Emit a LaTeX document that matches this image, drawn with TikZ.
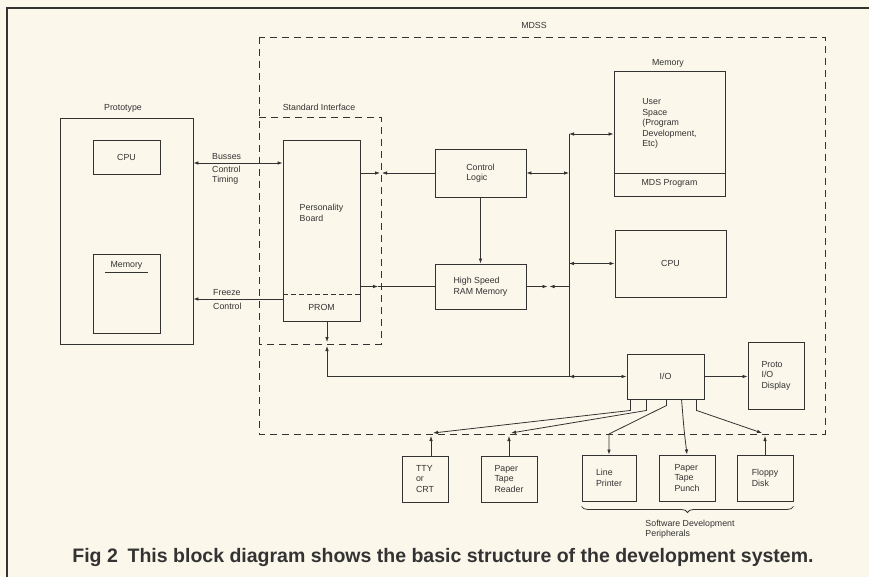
\documentclass[tikz,border=0pt]{standalone}
\usepackage{fontspec}
\setmainfont{Liberation Sans}
\usetikzlibrary{arrows.meta,positioning,decorations.pathreplacing}
\definecolor{paper}{HTML}{FBF7EA}
\definecolor{ink}{HTML}{333333}
\newcommand{\lbl}{\fontsize{8.8}{10.5}\selectfont}
\tikzset{
  blk/.style={
    rectangle,
    draw=ink,
    line width=0.9pt,
    align=left,
    inner sep=0pt,
    font=\lbl,
    text=ink
  },
  tag/.style={font=\lbl,text=ink,inner sep=0pt,align=left},
  dashbox/.style={draw=ink,line width=0.9pt,dash pattern=on 7pt off 5pt},
  link/.style={line width=0.8pt,draw=ink},
  arrow/.style={-{Latex[length=5pt,width=3.6pt]},line width=0.8pt,draw=ink},
  biarrow/.style={{Latex[length=5pt,width=3.6pt]}-{Latex[length=5pt,width=3.6pt]},line width=0.8pt,draw=ink}
}

\begin{document}
\begin{tikzpicture}[x=1pt,y=-1pt]
  \path[fill=paper,use as bounding box] (0,0) rectangle (869,577);
  \draw[ink,line width=2.4pt] (7,577) -- (7,8) -- (869,8);

  % dashed groups
  \draw[dashbox] (259,37) rectangle (825,434);
  \draw[dashbox] (259,117) -- (381,117) -- (381,344) -- (259,344);
  \node[tag] (mdss) at (534,25) {MDSS};
  \node[tag] (stdif) at (319,107) {Standard Interface};

  % prototype
  \node[tag] (protot) at (123,108) {Prototype};
  \node[blk,minimum width=133pt,minimum height=226pt] (proto) at (126.5,231) {};
  \node[blk,minimum width=67pt,minimum height=34pt] (pcpu) at (126.5,157) {CPU};
  \node[blk,minimum width=67pt,minimum height=79pt] (pmem) at (126.5,293.5) {};
  \node[tag] (pmemt) at (126.5,265) {Memory};
  \draw[link] ([xshift=-5pt,yshift=-3pt]pmemt.south west) -- ([xshift=5pt,yshift=-3pt]pmemt.south east);

  % standard interface
  \node[blk,minimum width=77pt,minimum height=181pt] (pers) at (321.5,230.5) {};
  \node[tag] (perst) at (321.5,213) {Personality\\Board};
  \draw[ink,line width=0.9pt,dash pattern=on 5pt off 3pt] (pers.west |- 0,294) -- (pers.east |- 0,294);
  \node[tag] (prom) at (321.5,307) {PROM};

  % mdss blocks
  \node[blk,minimum width=91pt,minimum height=48pt] (ctrl) at (480.5,173) {Control\\Logic};
  \node[blk,minimum width=91pt,minimum height=45pt] (ram) at (480.5,286.5) {High Speed\\RAM Memory};
  \node[tag] (memt) at (668,63) {Memory};
  \node[blk,minimum width=111pt,minimum height=125pt] (mem) at (669.5,133.5) {};
  \node[tag] (user) at (669.5,123.5) {User\\Space\\(Program\\Development,\\Etc)};
  \draw[link,line width=0.9pt] (mem.west |- 0,173) -- (mem.east |- 0,173);
  \node[tag] (mdsp) at (669.5,183) {MDS Program};
  \node[blk,minimum width=111pt,minimum height=67pt] (cpu) at (670.5,263.5) {CPU};
  \node[blk,minimum width=77pt,minimum height=45pt] (io) at (665.5,376.5) {I/O};
  \node[blk,minimum width=56pt,minimum height=67pt] (disp) at (776,375.5) {Proto\\I/O\\Display};

  % peripherals
  \node[blk,minimum width=46pt,minimum height=46pt] (tty) at (425,479) {TTY\\or\\CRT};
  \node[blk,minimum width=56pt,minimum height=46pt] (ptr) at (509,479) {Paper\\Tape\\Reader};
  \node[blk,minimum width=54pt,minimum height=46pt] (lp) at (609,478) {Line\\Printer};
  \node[blk,minimum width=56pt,minimum height=46pt] (ptp) at (687,478) {Paper\\Tape\\Punch};
  \node[blk,minimum width=56pt,minimum height=46pt] (fd) at (765,478) {Floppy\\Disk};
  \draw[link,decorate,decoration={brace,mirror,amplitude=6pt}] ([yshift=-5pt]lp.south west) -- ([yshift=-5pt]fd.south east);
  \node[tag] (swdev) at (690,529) {Software Development\\Peripherals};

  % prototype links
  \draw[biarrow] (proto.east |- 0,163) -- (pers.west |- 0,163);
  \node[tag,anchor=west] (busst) at (212,157) {Busses};
  \node[tag,anchor=west] (ctlt) at (212,169) {Control};
  \node[tag,anchor=west] (timt) at (212,180) {Timing};
  \draw[arrow] (pers.west |- 0,299) -- (proto.east |- 0,299);
  \node[tag,anchor=west] (frzt) at (213,293) {Freeze};
  \node[tag,anchor=west] (fctt) at (213,306) {Control};

  % crossing the interface
  \coordinate (sc) at (381,173);
  \coordinate (sr) at (378,286.5);
  \coordinate (sp) at (327,344);
  \draw[arrow] (pers.east |- sc) -- ([xshift=-1pt]sc);
  \draw[arrow] (ctrl.west) -- ([xshift=1pt]sc);
  \draw[arrow] (pers.east |- sr) -- (sr);
  \draw[link] (sr) -- (ram.west);
  \draw[arrow] (ctrl) -- (ram);

  % system bus
  \coordinate (bust) at (569,134);
  \coordinate (busb) at (569,376.5);
  \draw[link] (bust) -- (busb);
  \draw[biarrow] (bust) -- (bust -| mem.west);
  \draw[biarrow] (bust |- cpu.west) -- (cpu.west);
  \draw[biarrow] (ctrl.east) -- (ctrl.east -| bust);
  \coordinate (jr) at (548.5,286.5);
  \draw[arrow] (ram.east) -- ([xshift=-1pt]jr);
  \draw[arrow] (busb |- ram.east) -- ([xshift=1pt]jr);
  \draw[arrow] (pers.south -| sp) -- ([yshift=2pt]sp);
  \draw[arrow] (sp |- busb) -- ([yshift=-2pt]sp);
  \draw[link] (sp |- busb) -- (busb);
  \draw[biarrow] (busb) -- (io.west);
  \draw[arrow] (io.east) -- (io.east -| disp.west);

  % i/o fan-out
  \coordinate (jt) at (431,434);
  \coordinate (jp) at (509,434);
  \coordinate (jf) at (765,434);
  \draw[arrow] ([xshift=4pt]io.south west) -- ++(0,11) -- ([xshift=2pt,yshift=1pt]jt);
  \draw[arrow] (tty.north -| jt) -- ([yshift=-2pt]jt);
  \draw[arrow] ([xshift=20pt]io.south west) -- ++(0,11) -- ([xshift=2pt,yshift=1pt]jp);
  \draw[arrow] (ptr.north) -- ([yshift=-2pt]jp);
  \draw[arrow] ([xshift=40pt]io.south west) -- ++(0,6) -- (lp.north |- jp) -- (lp.north);
  \draw[arrow] ([xshift=55pt]io.south west) .. controls (684,430) .. (ptp.north);
  \draw[arrow] ([xshift=70pt]io.south west) -- ++(0,11) -- ([xshift=-3pt,yshift=1pt]jf);
  \draw[arrow] (fd.north) -- ([yshift=-2pt]jf);

  % caption
  \node[anchor=base,text=black!80,font=\fontsize{19.5}{23}\selectfont\bfseries] (cap) at (443,562)
    {Fig 2\enspace This block diagram shows the basic structure of the development system.};
\end{tikzpicture}
\end{document}
